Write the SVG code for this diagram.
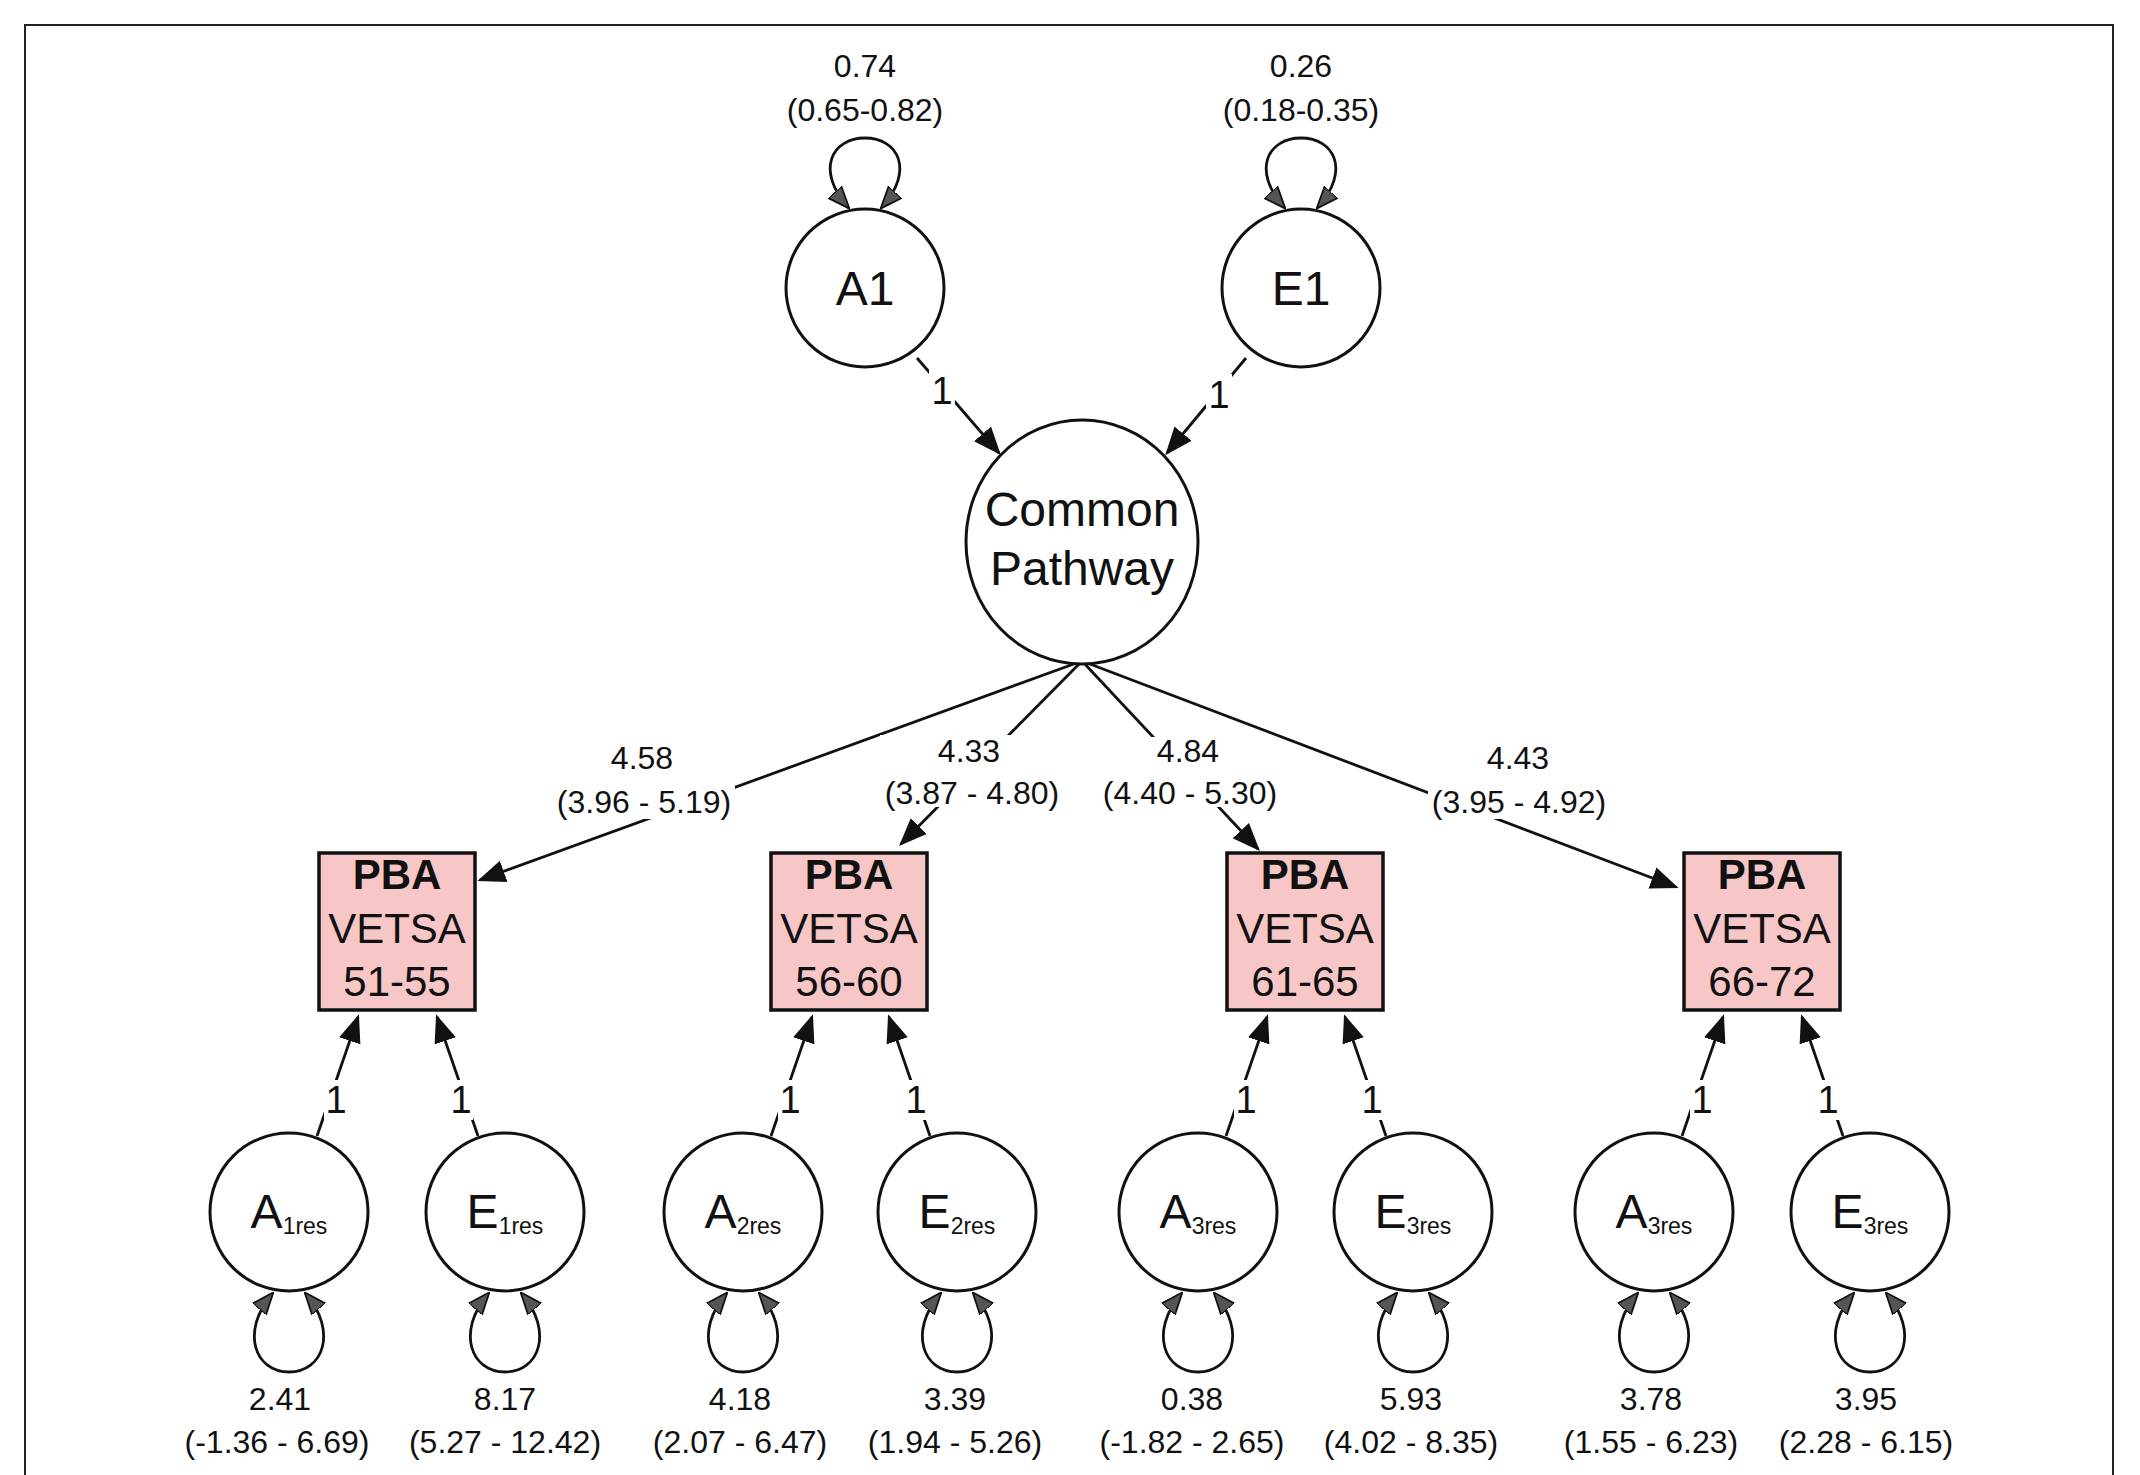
<svg xmlns="http://www.w3.org/2000/svg" width="2140" height="1475" viewBox="0 0 2140 1475">
<style>
text{font-family:"Liberation Sans",Arial,sans-serif;fill:#111;text-anchor:middle}
.n{fill:#fff;stroke:#111;stroke-width:3}
.b{fill:#f7c6c6;stroke:#111;stroke-width:3.5}
.c{fill:none;stroke:#111;stroke-width:2.8}
.l{font-size:32px}
.one{font-size:38px}
.big{font-size:48px}
.bx{font-size:42px}
.sub{font-size:23px}
.bg{fill:#fff}
</style>
<defs>
<marker id="am" viewBox="0 0 10 10" refX="9" refY="5" markerWidth="28" markerHeight="28" markerUnits="userSpaceOnUse" orient="auto-start-reverse"><path d="M0 1L10 5L0 9z" fill="#111"/></marker>
<marker id="lp" viewBox="0 0 10 10" refX="9" refY="5" markerWidth="22" markerHeight="22" markerUnits="userSpaceOnUse" orient="auto-start-reverse"><path d="M0 1L10 5L0 9z" fill="#555" stroke="#111" stroke-width="0.8"/></marker>
</defs>
<rect x="25" y="25" width="2088" height="1480" fill="none" stroke="#222" stroke-width="2"/>
<g id="connectors">
<path class="c" d="M917 358L999 453" marker-end="url(#am)"/>
<path class="c" d="M1246 358L1167 453" marker-end="url(#am)"/>
<path class="c" d="M1082 661L480 880" marker-end="url(#am)"/>
<path class="c" d="M1082 661L901 844" marker-end="url(#am)"/>
<path class="c" d="M1082 661L1258 849" marker-end="url(#am)"/>
<path class="c" d="M1082 661L1676 887" marker-end="url(#am)"/>
<path class="c" d="M848 207C815 170 832 138 865 138C898 138 915 170 882 207" marker-start="url(#lp)" marker-end="url(#lp)"/>
<path class="c" d="M1284 207C1251 170 1268 138 1301 138C1334 138 1351 170 1318 207" marker-start="url(#lp)" marker-end="url(#lp)"/>
<g id="bottomlinks">
<path class="c" d="M317 1136L358 1017" marker-end="url(#am)"/>
<path class="c" d="M478 1136L437 1017" marker-end="url(#am)"/>
<path class="c" d="M771 1136L812 1017" marker-end="url(#am)"/>
<path class="c" d="M930 1136L889 1017" marker-end="url(#am)"/>
<path class="c" d="M1226 1136L1267 1017" marker-end="url(#am)"/>
<path class="c" d="M1386 1136L1345 1017" marker-end="url(#am)"/>
<path class="c" d="M1682 1136L1723 1017" marker-end="url(#am)"/>
<path class="c" d="M1843 1136L1802 1017" marker-end="url(#am)"/>
</g>
<g id="loops">
<path class="c" d="M272 1294C240 1332 255 1372 289 1372C323 1372 338 1332 306 1294" marker-start="url(#lp)" marker-end="url(#lp)"/>
<path class="c" d="M488 1294C456 1332 471 1372 505 1372C539 1372 554 1332 522 1294" marker-start="url(#lp)" marker-end="url(#lp)"/>
<path class="c" d="M726 1294C694 1332 709 1372 743 1372C777 1372 792 1332 760 1294" marker-start="url(#lp)" marker-end="url(#lp)"/>
<path class="c" d="M940 1294C908 1332 923 1372 957 1372C991 1372 1006 1332 974 1294" marker-start="url(#lp)" marker-end="url(#lp)"/>
<path class="c" d="M1181 1294C1149 1332 1164 1372 1198 1372C1232 1372 1247 1332 1215 1294" marker-start="url(#lp)" marker-end="url(#lp)"/>
<path class="c" d="M1396 1294C1364 1332 1379 1372 1413 1372C1447 1372 1462 1332 1430 1294" marker-start="url(#lp)" marker-end="url(#lp)"/>
<path class="c" d="M1637 1294C1605 1332 1620 1372 1654 1372C1688 1372 1703 1332 1671 1294" marker-start="url(#lp)" marker-end="url(#lp)"/>
<path class="c" d="M1853 1294C1821 1332 1836 1372 1870 1372C1904 1372 1919 1332 1887 1294" marker-start="url(#lp)" marker-end="url(#lp)"/>
</g>
<g id="onelabels">
<rect class="bg" x="929" y="370" width="26" height="40"/><text x="942" y="404" class="one">1</text>
<rect class="bg" x="1206" y="374" width="26" height="40"/><text x="1219" y="408" class="one">1</text>
<rect class="bg" x="324" y="1080" width="24" height="40"/><rect class="bg" x="449" y="1080" width="24" height="40"/>
<rect class="bg" x="778" y="1080" width="24" height="40"/><rect class="bg" x="904" y="1080" width="24" height="40"/>
<rect class="bg" x="1234" y="1080" width="24" height="40"/><rect class="bg" x="1360" y="1080" width="24" height="40"/>
<rect class="bg" x="1690" y="1080" width="24" height="40"/><rect class="bg" x="1816" y="1080" width="24" height="40"/>
<text x="336" y="1113" class="one">1</text><text x="461" y="1113" class="one">1</text>
<text x="790" y="1113" class="one">1</text><text x="916" y="1113" class="one">1</text>
<text x="1246" y="1113" class="one">1</text><text x="1372" y="1113" class="one">1</text>
<text x="1702" y="1113" class="one">1</text><text x="1828" y="1113" class="one">1</text>
</g>
</g>
<g id="coef">
<rect class="bg" x="555" y="785" width="180" height="34"/>
<rect class="bg" x="880" y="735" width="180" height="72"/>
<rect class="bg" x="1105" y="737" width="160" height="70"/>
<rect class="bg" x="1428" y="785" width="180" height="34"/>
<text x="865" y="77" class="l">0.74</text><text x="865" y="121" class="l">(0.65-0.82)</text>
<text x="1301" y="77" class="l">0.26</text><text x="1301" y="121" class="l">(0.18-0.35)</text>
<text x="642" y="769" class="l">4.58</text><text x="644" y="813" class="l">(3.96 - 5.19)</text>
<text x="969" y="762" class="l">4.33</text><text x="972" y="804" class="l">(3.87 - 4.80)</text>
<text x="1188" y="762" class="l">4.84</text><text x="1190" y="804" class="l">(4.40 - 5.30)</text>
<text x="1518" y="769" class="l">4.43</text><text x="1519" y="813" class="l">(3.95 - 4.92)</text>
<text x="280" y="1410" class="l">2.41</text><text x="277" y="1453" class="l">(-1.36 - 6.69)</text>
<text x="505" y="1410" class="l">8.17</text><text x="505" y="1453" class="l">(5.27 - 12.42)</text>
<text x="740" y="1410" class="l">4.18</text><text x="740" y="1453" class="l">(2.07 - 6.47)</text>
<text x="955" y="1410" class="l">3.39</text><text x="955" y="1453" class="l">(1.94 - 5.26)</text>
<text x="1192" y="1410" class="l">0.38</text><text x="1192" y="1453" class="l">(-1.82 - 2.65)</text>
<text x="1411" y="1410" class="l">5.93</text><text x="1411" y="1453" class="l">(4.02 - 8.35)</text>
<text x="1651" y="1410" class="l">3.78</text><text x="1651" y="1453" class="l">(1.55 - 6.23)</text>
<text x="1866" y="1410" class="l">3.95</text><text x="1866" y="1453" class="l">(2.28 - 6.15)</text>
</g>
<g id="A1"><circle class="n" cx="865" cy="288" r="79"/><text x="865" y="305" class="big">A1</text></g>
<g id="E1"><circle class="n" cx="1301" cy="288" r="79"/><text x="1301" y="305" class="big">E1</text></g>
<g id="CP"><ellipse class="n" cx="1082" cy="542" rx="116" ry="122"/><text x="1082" y="526" class="big">Common</text><text x="1082" y="585" class="big">Pathway</text></g>
<g id="box1"><rect class="b" x="319" y="853" width="156" height="157"/><text x="397" y="889" class="bx" font-weight="bold">PBA</text><text x="397" y="943" class="bx">VETSA</text><text x="397" y="996" class="bx">51-55</text></g>
<g id="box2"><rect class="b" x="771" y="853" width="156" height="157"/><text x="849" y="889" class="bx" font-weight="bold">PBA</text><text x="849" y="943" class="bx">VETSA</text><text x="849" y="996" class="bx">56-60</text></g>
<g id="box3"><rect class="b" x="1227" y="853" width="156" height="157"/><text x="1305" y="889" class="bx" font-weight="bold">PBA</text><text x="1305" y="943" class="bx">VETSA</text><text x="1305" y="996" class="bx">61-65</text></g>
<g id="box4"><rect class="b" x="1684" y="853" width="156" height="157"/><text x="1762" y="889" class="bx" font-weight="bold">PBA</text><text x="1762" y="943" class="bx">VETSA</text><text x="1762" y="996" class="bx">66-72</text></g>
<g id="A1res"><circle class="n" cx="289" cy="1212" r="79"/><text x="289" y="1228" class="big">A<tspan class="sub" dy="6">1res</tspan></text></g>
<g id="E1res"><circle class="n" cx="505" cy="1212" r="79"/><text x="505" y="1228" class="big">E<tspan class="sub" dy="6">1res</tspan></text></g>
<g id="A2res"><circle class="n" cx="743" cy="1212" r="79"/><text x="743" y="1228" class="big">A<tspan class="sub" dy="6">2res</tspan></text></g>
<g id="E2res"><circle class="n" cx="957" cy="1212" r="79"/><text x="957" y="1228" class="big">E<tspan class="sub" dy="6">2res</tspan></text></g>
<g id="A3res"><circle class="n" cx="1198" cy="1212" r="79"/><text x="1198" y="1228" class="big">A<tspan class="sub" dy="6">3res</tspan></text></g>
<g id="E3res"><circle class="n" cx="1413" cy="1212" r="79"/><text x="1413" y="1228" class="big">E<tspan class="sub" dy="6">3res</tspan></text></g>
<g id="A4res"><circle class="n" cx="1654" cy="1212" r="79"/><text x="1654" y="1228" class="big">A<tspan class="sub" dy="6">3res</tspan></text></g>
<g id="E4res"><circle class="n" cx="1870" cy="1212" r="79"/><text x="1870" y="1228" class="big">E<tspan class="sub" dy="6">3res</tspan></text></g>
</svg>
